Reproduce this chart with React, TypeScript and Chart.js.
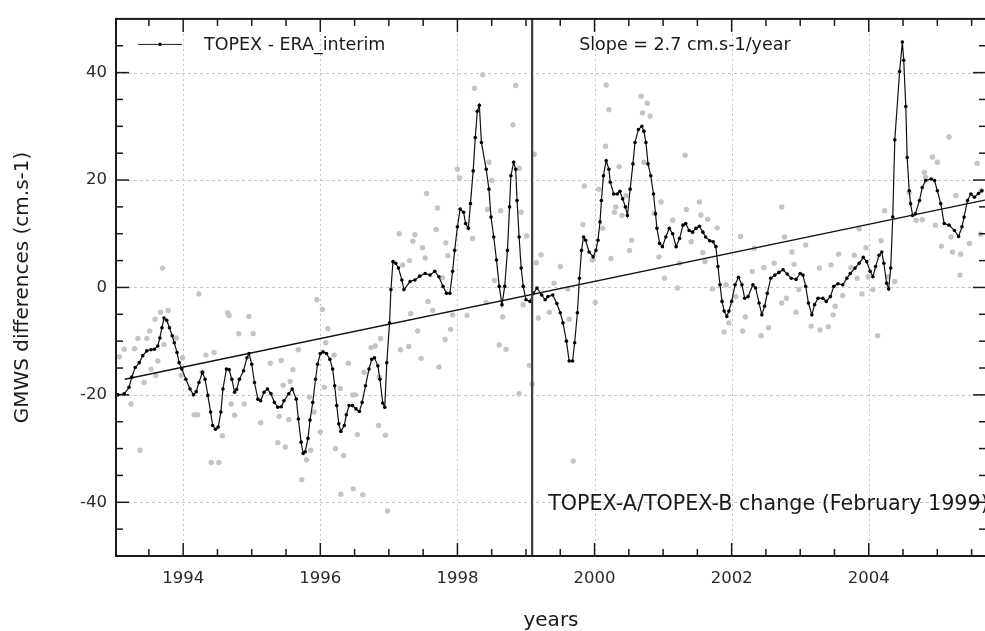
import React, { useEffect, useRef } from 'react';
import { Chart, registerables } from 'chart.js';

Chart.register(...registerables);

const FONT = '"DejaVu Sans", Verdana, sans-serif';

// ---- axes ----
const xMin = 1993.02;
const xMax = 2005.71;
const yMin = -50;
const yMax = 50;
const xTickValues = [1994, 1996, 1998, 2000, 2002, 2004];
const yTickValues = [-40, -20, 0, 20, 40];
const xMinorStep = 0.5;
const yMinorStep = 5;

// ---- texts ----
const xTitle = 'years';
const yTitle = 'GMWS differences (cm.s-1)';
const seriesLabel = 'TOPEX - ERA_interim';
const slopeText = 'Slope = 2.7 cm.s-1/year';
const changeText = 'TOPEX-A/TOPEX-B change (February 1999)';

// ---- data ----
const changeYear = 1999.09;

const smoothYears = [
  1993.05, 1993.14, 1993.21, 1993.25, 1993.30, 1993.36, 1993.41, 1993.47, 1993.53, 1993.58,
  1993.63, 1993.66, 1993.69, 1993.72, 1993.76, 1993.80, 1993.84, 1993.87, 1993.91, 1993.94,
  1993.98, 1994.04, 1994.10, 1994.15, 1994.19, 1994.23, 1994.28, 1994.32, 1994.36, 1994.40,
  1994.43, 1994.47, 1994.51, 1994.55, 1994.58, 1994.63, 1994.67, 1994.71, 1994.75, 1994.78,
  1994.82, 1994.88, 1994.93, 1994.96, 1995.00, 1995.04, 1995.09, 1995.13, 1995.18, 1995.23,
  1995.28, 1995.33, 1995.38, 1995.43, 1995.47, 1995.54, 1995.59, 1995.65, 1995.68, 1995.72,
  1995.75, 1995.78, 1995.82, 1995.85, 1995.89, 1995.93, 1995.96, 1996.00, 1996.04, 1996.09,
  1996.14, 1996.18, 1996.21, 1996.24, 1996.27, 1996.30, 1996.35, 1996.38, 1996.42, 1996.47,
  1996.52, 1996.57, 1996.61, 1996.66, 1996.71, 1996.75, 1996.79, 1996.84, 1996.87, 1996.91,
  1996.94, 1996.97, 1997.01, 1997.03, 1997.06, 1997.10, 1997.14, 1997.19, 1997.22, 1997.31,
  1997.38, 1997.45, 1997.53, 1997.60, 1997.67, 1997.73, 1997.79, 1997.84, 1997.89, 1997.93,
  1997.96, 1998.00, 1998.04, 1998.09, 1998.12, 1998.16, 1998.19, 1998.23, 1998.26, 1998.29,
  1998.32, 1998.35, 1998.42, 1998.46, 1998.49, 1998.53, 1998.57, 1998.61, 1998.65, 1998.69,
  1998.73, 1998.76, 1998.78, 1998.82, 1998.85, 1998.87, 1998.90, 1998.93, 1998.96, 1999.00,
  1999.06, 1999.11, 1999.16, 1999.23, 1999.28, 1999.32, 1999.39, 1999.45, 1999.50, 1999.54,
  1999.59, 1999.63, 1999.68, 1999.71, 1999.75, 1999.78, 1999.81, 1999.84, 1999.87, 1999.92,
  1999.98, 2000.02, 2000.05, 2000.08, 2000.10, 2000.13, 2000.17, 2000.21, 2000.23, 2000.28,
  2000.33, 2000.37, 2000.41, 2000.45, 2000.48, 2000.52, 2000.56, 2000.59, 2000.64, 2000.69,
  2000.72, 2000.75, 2000.78, 2000.82, 2000.86, 2000.89, 2000.91, 2000.95, 2000.99, 2001.04,
  2001.09, 2001.14, 2001.19, 2001.24, 2001.29, 2001.33, 2001.38, 2001.43, 2001.48, 2001.53,
  2001.58, 2001.62, 2001.68, 2001.73, 2001.77, 2001.80, 2001.83, 2001.86, 2001.89, 2001.93,
  2001.96, 2002.00, 2002.05, 2002.10, 2002.15, 2002.19, 2002.24, 2002.31, 2002.35, 2002.40,
  2002.44, 2002.48, 2002.52, 2002.57, 2002.63, 2002.69, 2002.75, 2002.81, 2002.87, 2002.94,
  2003.00, 2003.04, 2003.08, 2003.12, 2003.17, 2003.21, 2003.26, 2003.33, 2003.38, 2003.44,
  2003.49, 2003.55, 2003.62, 2003.68, 2003.73, 2003.80, 2003.86, 2003.92, 2003.97, 2004.02,
  2004.06, 2004.10, 2004.15, 2004.19, 2004.22, 2004.26, 2004.29, 2004.32, 2004.35, 2004.38,
  2004.45, 2004.49, 2004.51, 2004.54, 2004.56, 2004.59, 2004.61, 2004.64, 2004.68, 2004.74,
  2004.78, 2004.83, 2004.91, 2004.96, 2005.00, 2005.05, 2005.10, 2005.17, 2005.25, 2005.31,
  2005.36, 2005.39, 2005.44, 2005.49, 2005.54, 2005.60, 2005.65,
];
const smoothValues = [
  -20.0, -19.8, -18.6, -16.7, -14.9, -14.0, -12.7, -11.8, -11.6, -11.5,
  -10.9, -9.4, -7.5, -5.7, -6.1, -7.5, -9.0, -10.3, -12.1, -14.0,
  -15.2, -17.1, -18.9, -20.0, -19.4, -17.7, -15.8, -17.1, -20.1, -23.2,
  -25.7, -26.4, -26.0, -23.2, -18.9, -15.2, -15.3, -17.1, -19.5, -19.0,
  -17.1, -15.5, -13.1, -12.3, -14.3, -17.7, -20.8, -21.1, -19.5, -18.9,
  -19.8, -21.4, -22.3, -22.2, -21.1, -19.8, -18.9, -20.8, -24.5, -28.8,
  -30.9, -30.6, -28.1, -24.7, -21.4, -17.1, -14.3, -12.3, -12.0, -12.3,
  -13.4, -15.2, -18.3, -22.0, -25.4, -26.8, -25.7, -23.7, -22.0, -22.0,
  -22.6, -23.1, -21.4, -18.3, -15.2, -13.4, -13.1, -14.6, -17.1, -21.5,
  -22.3, -14.0, -6.6, -0.4, 4.8, 4.5, 3.6, 1.4, -0.4, 1.1,
  1.4, 2.1, 2.6, 2.3, 3.0, 2.0, 0.2, -1.1, -1.1, 3.0,
  6.9, 11.3, 14.6, 14.0, 11.9, 11.0, 15.6, 21.7, 27.9, 32.8,
  33.9, 27.0, 22.0, 18.3, 13.1, 9.4, 5.1, 0.2, -3.2, 0.2,
  6.9, 15.0, 20.8, 23.3, 22.0, 16.2, 9.4, 3.6, 0.2, -2.3,
  -2.6, -1.1, -0.1, -1.4, -2.3, -1.7, -1.4, -3.0, -4.7, -6.6,
  -10.0, -13.7, -13.7, -10.3, -4.7, 1.7, 6.9, 9.4, 8.8, 6.6,
  5.7, 6.9, 8.8, 12.2, 16.2, 20.8, 23.6, 22.0, 19.6, 17.4,
  17.4, 17.9, 16.5, 15.0, 13.4, 18.3, 23.0, 27.0, 29.4, 30.0,
  29.1, 27.0, 23.0, 20.8, 17.4, 13.7, 11.0, 8.2, 7.6, 9.4,
  11.0, 10.0, 7.6, 9.1, 11.6, 11.9, 10.6, 10.3, 11.0, 11.4,
  10.3, 9.4, 8.7, 8.5, 7.6, 3.9, 0.5, -2.6, -4.4, -5.4,
  -4.4, -2.6, 0.5, 1.9, 0.5, -2.0, -1.7, 0.5, -0.1, -2.9,
  -5.1, -3.5, -1.1, 1.7, 2.3, 2.8, 3.3, 2.5, 1.7, 1.5,
  2.6, 2.3, 0.2, -2.9, -5.1, -3.2, -2.0, -2.0, -2.6, -1.7,
  0.2, 0.7, 0.5, 1.7, 2.6, 3.6, 4.5, 5.6, 4.8, 3.0,
  2.0, 3.9, 6.0, 6.6, 4.5, 0.8, -0.3, 3.6, 13.1, 27.5,
  40.2, 45.7, 42.3, 33.7, 24.2, 18.0, 15.6, 13.4, 13.7, 16.2,
  18.6, 19.9, 20.2, 19.9, 18.0, 15.6, 11.9, 11.6, 10.6, 9.5,
  11.3, 13.1, 16.2, 17.4, 16.8, 17.5, 18.0,
];

const rawYears = [
  1993.07, 1993.14, 1993.24, 1993.29, 1993.34, 1993.37, 1993.43, 1993.47, 1993.51, 1993.53,
  1993.59, 1993.60, 1993.63, 1993.67, 1993.70, 1993.72, 1993.78, 1993.90, 1993.97, 1993.99,
  1994.16, 1994.21, 1994.23, 1994.28, 1994.33, 1994.41, 1994.45, 1994.52, 1994.57, 1994.65,
  1994.67, 1994.70, 1994.75, 1994.81, 1994.89, 1994.96, 1995.02, 1995.13, 1995.27, 1995.38,
  1995.40, 1995.43, 1995.46, 1995.49, 1995.54, 1995.56, 1995.60, 1995.68, 1995.73, 1995.80,
  1995.84, 1995.86, 1995.91, 1995.95, 1996.00, 1996.03, 1996.06, 1996.08, 1996.11, 1996.20,
  1996.22, 1996.29, 1996.30, 1996.34, 1996.41, 1996.47, 1996.48, 1996.51, 1996.54, 1996.62,
  1996.64, 1996.74, 1996.80, 1996.85, 1996.86, 1996.88, 1996.95, 1996.98, 1997.15, 1997.17,
  1997.20, 1997.29, 1997.30, 1997.32, 1997.35, 1997.38, 1997.42, 1997.47, 1997.49, 1997.53,
  1997.55, 1997.57, 1997.64, 1997.69, 1997.71, 1997.73, 1997.78, 1997.82, 1997.83, 1997.86,
  1997.90, 1997.93, 1998.00, 1998.03, 1998.14, 1998.22, 1998.25, 1998.37, 1998.42, 1998.44,
  1998.46, 1998.50, 1998.54, 1998.61, 1998.63, 1998.66, 1998.71, 1998.81, 1998.85, 1998.90,
  1998.90, 1998.93, 1998.96, 1999.01, 1999.05, 1999.09, 1999.12, 1999.15, 1999.18, 1999.22,
  1999.34, 1999.41, 1999.50, 1999.61, 1999.63, 1999.69, 1999.83, 1999.85, 1999.97, 2000.01,
  2000.06, 2000.12, 2000.16, 2000.17, 2000.21, 2000.24, 2000.29, 2000.31, 2000.36, 2000.40,
  2000.46, 2000.51, 2000.54, 2000.68, 2000.70, 2000.72, 2000.77, 2000.81, 2000.87, 2000.94,
  2000.97, 2001.02, 2001.14, 2001.21, 2001.24, 2001.32, 2001.34, 2001.41, 2001.53, 2001.55,
  2001.58, 2001.61, 2001.65, 2001.72, 2001.79, 2001.89, 2001.92, 2001.96, 2002.06, 2002.13,
  2002.16, 2002.20, 2002.30, 2002.33, 2002.43, 2002.47, 2002.54, 2002.62, 2002.73, 2002.73,
  2002.77, 2002.80, 2002.88, 2002.91, 2002.94, 2002.98, 2003.08, 2003.16, 2003.28, 2003.29,
  2003.41, 2003.45, 2003.48, 2003.51, 2003.56, 2003.62, 2003.74, 2003.79, 2003.83, 2003.86,
  2003.90, 2003.96, 2003.99, 2004.06, 2004.13, 2004.18, 2004.23, 2004.28, 2004.38, 2004.59,
  2004.69, 2004.78, 2004.81, 2004.83, 2004.93, 2004.97, 2005.00, 2005.06, 2005.17, 2005.20,
  2005.22, 2005.27, 2005.33, 2005.34, 2005.47, 2005.58, 2005.63, 2005.64,
];
const rawValues = [
  -12.9, -11.5, -21.7, -11.4, -9.5, -30.3, -17.7, -9.5, -8.1, -15.2,
  -5.9, -16.4, -13.7, -4.6, 3.6, -10.6, -4.3, -9.4, -16.4, -13.1,
  -23.7, -23.7, -1.2, -15.8, -12.6, -32.6, -12.1, -32.6, -27.6, -4.7,
  -5.2, -21.7, -23.8, -8.6, -21.7, -5.4, -8.6, -25.2, -14.1, -28.9,
  -24.0, -13.6, -18.2, -29.7, -24.6, -17.5, -15.3, -11.6, -35.8, -32.1,
  -20.4, -30.3, -23.2, -2.3, -26.9, -4.1, -18.6, -10.3, -7.7, -12.6,
  -30.0, -18.8, -38.5, -31.3, -14.1, -20.0, -37.5, -20.0, -27.4, -38.6,
  -15.8, -11.2, -10.9, -25.7, -16.7, -9.5, -27.5, -41.6, 10.0, -11.6,
  4.2, -11.0, 5.0, -4.9, 8.6, 9.8, -8.1, -13.2, 7.4, 5.5,
  17.5, -2.6, -4.3, 10.8, 14.8, -14.8, 1.8, -9.7, 8.3, 5.9,
  -7.8, -5.1, 22.0, 20.4, -5.2, 9.1, 37.1, 39.6, -2.8, 14.5,
  23.3, 19.9, 1.3, -10.7, 14.3, -5.5, -11.5, 30.3, 37.6, 22.2,
  -19.8, 14.0, -3.2, 9.6, -14.5, -18.0, 24.8, 4.6, -5.7, 6.1,
  -4.6, 0.8, 3.9, -0.3, -5.9, -32.3, 11.7, 18.9, 5.1, -2.8,
  18.3, 11.0, 26.3, 37.7, 33.1, 5.4, 14.0, 15.0, 22.5, 13.4,
  17.1, 6.9, 8.8, 35.6, 32.5, 23.3, 34.3, 31.9, 13.8, 5.7,
  15.9, 1.7, 12.5, -0.1, 4.5, 24.6, 14.5, 8.5, 15.9, 13.5,
  6.5, 4.8, 12.7, -0.3, 11.1, -8.3, 0.5, -6.6, -1.7, 9.5,
  -8.1, -5.5, 3.0, 7.3, -9.0, 3.7, -7.5, 4.5, 15.0, -2.9,
  9.4, -2.0, 6.6, 4.3, -4.6, -0.4, 7.9, -7.2, 3.6, -7.9,
  -7.3, 4.2, -5.1, -3.5, 6.2, -1.5, 3.7, 6.0, 1.7, 10.9,
  -1.2, 7.4, 2.0, -0.4, -9.0, 8.7, 14.3, 2.0, 1.1, 17.7,
  12.5, 12.6, 21.4, 20.5, 24.3, 11.6, 23.3, 7.7, 28.0, 9.4,
  6.6, 17.1, 2.3, 6.2, 8.2, 23.1, 9.9, 18.0,
];

const trendYears = [1993.15, 2005.71];
const trendValues = [-17.1, 16.3];

const changeLineValues = [yMin, yMax];

const toPoints = (xs: number[], ys: number[]) => xs.map((x, i) => ({ x, y: ys[i] }));

const decorPlugin = {
  id: 'decor',
  beforeDatasetsDraw(chart: any) {
    const { ctx, chartArea, scales } = chart;
    const { left, right, top, bottom } = chartArea;
    ctx.save();
    ctx.strokeStyle = '#c4c4c4';
    ctx.lineWidth = 1;
    ctx.setLineDash([2, 3]);
    xTickValues.forEach((v) => {
      const px = Math.round(scales.x.getPixelForValue(v)) + 0.5;
      ctx.beginPath();
      ctx.moveTo(px, top);
      ctx.lineTo(px, bottom);
      ctx.stroke();
    });
    ctx.setLineDash([3, 3]);
    yTickValues.forEach((v) => {
      const py = Math.round(scales.y.getPixelForValue(v)) + 0.5;
      ctx.beginPath();
      ctx.moveTo(left, py);
      ctx.lineTo(right, py);
      ctx.stroke();
    });
    ctx.restore();
  },
  afterDraw(chart: any) {
    const { ctx, chartArea, scales } = chart;
    const { left, right, top, bottom } = chartArea;
    const sx = scales.x;
    const sy = scales.y;
    ctx.save();
    ctx.strokeStyle = '#1a1a1a';
    ctx.lineWidth = 1.5;
    const seg = (x1: number, y1: number, x2: number, y2: number) => {
      ctx.beginPath();
      ctx.moveTo(x1, y1);
      ctx.lineTo(x2, y2);
      ctx.stroke();
    };
    const majorLen = 13;
    const minorLen = 7;
    for (let v = Math.ceil(xMin / xMinorStep) * xMinorStep; v <= xMax + 1e-9; v += xMinorStep) {
      const isMajor = xTickValues.some((t) => Math.abs(t - v) < 1e-6);
      const len = isMajor ? majorLen : minorLen;
      const px = sx.getPixelForValue(v);
      seg(px, bottom, px, bottom - len);
      seg(px, top, px, top + len);
    }
    for (let v = Math.ceil(yMin / yMinorStep) * yMinorStep; v <= yMax + 1e-9; v += yMinorStep) {
      if (v <= yMin || v >= yMax) continue;
      const isMajor = yTickValues.some((t) => Math.abs(t - v) < 1e-6);
      const len = isMajor ? majorLen : minorLen;
      const py = sy.getPixelForValue(v);
      seg(left, py, left + len, py);
      seg(right, py, right - len, py);
    }
    ctx.lineWidth = 2;
    ctx.strokeRect(left, top, right - left, bottom - top);

    // legend
    ctx.lineWidth = 1;
    seg(left + 22, top + 25.5, left + 66, top + 25.5);
    ctx.fillStyle = '#111';
    ctx.beginPath();
    ctx.arc(left + 44, top + 25.5, 1.8, 0, Math.PI * 2);
    ctx.fill();
    ctx.font = `17.5px ${FONT}`;
    ctx.textBaseline = 'alphabetic';
    ctx.textAlign = 'left';
    ctx.fillStyle = '#1a1a1a';
    ctx.fillText(seriesLabel, left + 88, top + 31.5);

    const cx = sx.getPixelForValue(changeYear);
    ctx.fillText(slopeText, cx + 47, top + 31.5);

    ctx.font = `20.7px ${FONT}`;
    ctx.fillText(changeText, cx + 16, sy.getPixelForValue(-40) + 7.5);
    ctx.restore();
  },
};

export default function App() {
  const canvasRef = useRef<HTMLCanvasElement | null>(null);

  useEffect(() => {
    const canvas = canvasRef.current;
    if (!canvas) return;
    const chart = new Chart(canvas, {
      type: 'line',
      data: {
        datasets: [
          {
            label: 'raw',
            data: toPoints(rawYears, rawValues),
            showLine: false,
            pointRadius: 2.7,
            pointBackgroundColor: '#c4c4c4',
            pointBorderWidth: 0,
            borderColor: '#c4c4c4',
            order: 4,
          },
          {
            label: 'trend',
            data: toPoints(trendYears, trendValues),
            borderColor: '#111',
            borderWidth: 1.4,
            pointRadius: 0,
            order: 3,
          },
          {
            label: seriesLabel,
            data: toPoints(smoothYears, smoothValues),
            borderColor: '#111',
            borderWidth: 1.2,
            pointRadius: 1.8,
            pointBackgroundColor: '#000',
            pointBorderWidth: 0,
            tension: 0,
            order: 2,
          },
          {
            label: 'change',
            data: toPoints([changeYear, changeYear], changeLineValues),
            borderColor: '#3c3c3c',
            borderWidth: 2.2,
            pointRadius: 0,
            order: 1,
          },
        ],
      },
      options: {
        animation: false,
        responsive: false,
        maintainAspectRatio: false,
        devicePixelRatio: 1,
        layout: { padding: { top: 13, right: 14, left: 0, bottom: 0 } },
        plugins: {
          legend: { display: false },
          tooltip: { enabled: false },
        },
        scales: {
          x: {
            type: 'linear',
            position: 'bottom',
            min: xMin,
            max: xMax,
            afterBuildTicks: (scale: any) => {
              scale.ticks = xTickValues.map((value) => ({ value }));
            },
            afterFit: (scale: any) => {
              scale.height = 75;
            },
            grid: { display: false, drawTicks: false },
            border: { display: false },
            ticks: {
              autoSkip: false,
              maxRotation: 0,
              padding: 13,
              color: '#2a2a2a',
              font: { family: FONT, size: 16.5 },
              callback: (v: any) => String(v),
            },
            title: {
              display: true,
              text: xTitle,
              color: '#1a1a1a',
              font: { family: FONT, size: 20 },
              padding: { top: 0, bottom: -2 },
            },
          },
          y: {
            type: 'linear',
            position: 'left',
            min: yMin,
            max: yMax,
            afterBuildTicks: (scale: any) => {
              scale.ticks = yTickValues.map((value) => ({ value }));
            },
            afterFit: (scale: any) => {
              scale.width = 116;
            },
            grid: { display: false, drawTicks: false },
            border: { display: false },
            ticks: {
              padding: 9,
              color: '#2a2a2a',
              font: { family: FONT, size: 16.5 },
              callback: (v: any) => String(v),
            },
            title: {
              display: true,
              text: yTitle,
              color: '#1a1a1a',
              font: { family: FONT, size: 20 },
              padding: { top: 11, bottom: 0 },
            },
          },
        },
      },
      plugins: [decorPlugin],
    } as any);
    return () => chart.destroy();
  }, []);

  return (
    <div style={{ position: 'fixed', left: 0, top: 0, width: 1000, height: 631, background: '#fff' }}>
      <canvas ref={canvasRef} width={1000} height={631} style={{ width: 1000, height: 631, display: 'block' }} />
    </div>
  );
}
